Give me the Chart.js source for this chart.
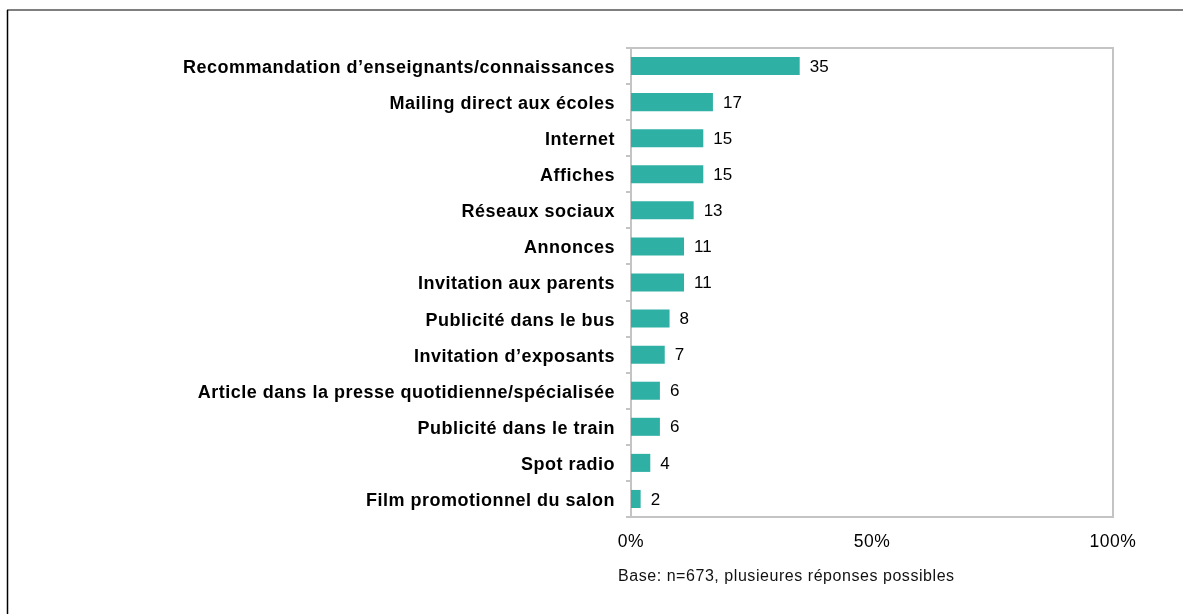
<!DOCTYPE html>
<html>
<head>
<meta charset="utf-8">
<script src="https://cdn.jsdelivr.net/npm/chart.js@4"></script>
<style>
  html, body { margin: 0; padding: 0; background: #fff; }
  #wrap { width: 1183px; height: 614px; }
</style>
</head>
<body>
<div id="wrap"><canvas id="chart"></canvas></div>
<script>
const categories = [
  "Recommandation d’enseignants/connaissances",
  "Mailing direct aux écoles",
  "Internet",
  "Affiches",
  "Réseaux sociaux",
  "Annonces",
  "Invitation aux parents",
  "Publicité dans le bus",
  "Invitation d’exposants",
  "Article dans la presse quotidienne/spécialisée",
  "Publicité dans le train",
  "Spot radio",
  "Film promotionnel du salon"
];
const values = [35, 17, 15, 15, 13, 11, 11, 8, 7, 6, 6, 4, 2];
const xTicks = [0, 50, 100];
const footnote = "Base: n=673, plusieures réponses possibles";

const FONT = "Arial, 'Liberation Sans', sans-serif";
const BAR_COLOR = "#2fb0a5";
const AXIS_GREY = "#c4c4c4";

// frame, plot box, value labels and footnote
const extras = {
  id: "extras",
  beforeDraw(chart) {
    const ctx = chart.ctx;
    ctx.save();
    ctx.fillStyle = "#fff";
    ctx.fillRect(0, 0, chart.width, chart.height);
    ctx.strokeStyle = "#7f7f7f";
    ctx.lineWidth = 2;
    ctx.beginPath();
    ctx.moveTo(7, 10);
    ctx.lineTo(chart.width, 10);
    ctx.stroke();
    ctx.strokeStyle = "#000";
    ctx.lineWidth = 1.5;
    ctx.beginPath();
    ctx.moveTo(7.5, 10);
    ctx.lineTo(7.5, chart.height);
    ctx.stroke();
    ctx.restore();
    // the source text is set a little loosely
    ctx.letterSpacing = "0.5px";
  },
  afterDraw(chart) {
    const ctx = chart.ctx;
    const a = chart.chartArea;
    ctx.save();
    ctx.strokeStyle = AXIS_GREY;
    ctx.lineWidth = 2;
    ctx.beginPath();
    ctx.moveTo(a.left - 5, a.top);
    ctx.lineTo(a.right, a.top);
    ctx.lineTo(a.right, a.bottom);
    ctx.stroke();

    ctx.fillStyle = "#000";
    ctx.font = "17px " + FONT;
    ctx.letterSpacing = "0px";
    ctx.textBaseline = "middle";
    ctx.textAlign = "left";
    chart.getDatasetMeta(0).data.forEach((bar, i) => {
      ctx.fillText(String(values[i]), bar.x + 10, bar.y + 1);
    });

    ctx.font = "16px " + FONT;
    ctx.letterSpacing = "0.55px";
    ctx.fillStyle = "#111";
    ctx.fillText(footnote, 618, 577);
    ctx.restore();
    ctx.letterSpacing = "0px";
  }
};

new Chart(document.getElementById("chart"), {
  type: "bar",
  data: {
    labels: categories,
    datasets: [{
      data: values,
      backgroundColor: BAR_COLOR,
      borderWidth: 0,
      barPercentage: 0.5,
      categoryPercentage: 1
    }]
  },
  options: {
    indexAxis: "y",
    responsive: true,
    maintainAspectRatio: false,
    animation: false,
    layout: { padding: { left: 8, top: 48, right: 70, bottom: 0 } },
    plugins: {
      legend: { display: false },
      tooltip: { enabled: false }
    },
    scales: {
      x: {
        min: 0,
        max: 100,
        afterBuildTicks(scale) {
          scale.ticks = xTicks.map(v => ({ value: v }));
        },
        afterFit(scale) { scale.height = 97; },
        grid: { display: false, drawTicks: false },
        border: { display: true, color: AXIS_GREY, width: 2 },
        ticks: {
          padding: 15,
          color: "#000",
          font: { family: FONT, size: 17.5 },
          maxRotation: 0,
          callback: v => v + "%"
        }
      },
      y: {
        afterFit(scale) { scale.width = 623; },
        grid: {
          offset: true,
          drawOnChartArea: false,
          drawTicks: true,
          tickLength: 5,
          color: AXIS_GREY,
          lineWidth: 2
        },
        border: { display: true, color: AXIS_GREY, width: 2 },
        ticks: {
          padding: 11,
          labelOffset: 2,
          color: "#000",
          autoSkip: false,
          font: { family: FONT, size: 18, weight: "bold" }
        }
      }
    }
  },
  plugins: [extras]
});
</script>
</body>
</html>
